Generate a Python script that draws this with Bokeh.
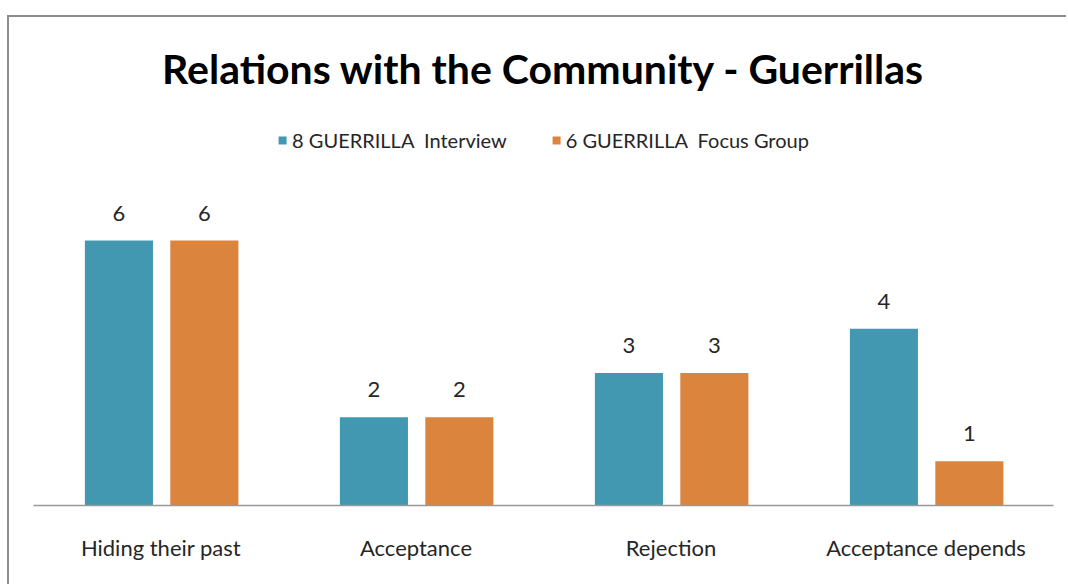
from bokeh.plotting import figure
from bokeh.models import FactorRange, Range1d, ColumnDataSource, Legend, LegendItem
from bokeh.transform import dodge
from bokeh.core.properties import value
from bokeh.embed import file_html
from bokeh.resources import INLINE

categories = ["Hiding their past", "Acceptance", "Rejection", "Acceptance depends"]
interview = [6, 2, 3, 4]
focus_group = [6, 2, 3, 1]
series_names = ["8 GUERRILLA  Interview", "6 GUERRILLA  Focus Group"]
colors = ["#4298B1", "#DB843D"]

src = ColumnDataSource(dict(
    cat=categories,
    a=interview,
    b=focus_group,
    a_txt=[str(v) for v in interview],
    b_txt=[str(v) for v in focus_group],
))

p = figure(width=1059, height=569, x_range=FactorRange(*categories), y_range=Range1d(0, 9.17),
           output_backend="svg", toolbar_location=None,
           min_border_left=24, min_border_right=15, min_border_bottom=81, min_border_top=83)
p.styles = {"margin-left": "7px", "margin-top": "15px",
            "border-left": "2px solid #8C8C8C", "border-top": "2px solid #8C8C8C"}

p.title.text = "Relations with the Community - Guerrillas"
p.title.align = "center"
p.title.text_font = "Lato"
p.title.text_font_style = "bold"
p.title.text_font_size = "41px"
p.title.text_color = "#000000"
p.title.standoff = 15

ra = p.vbar(x=dodge("cat", -0.165, range=p.x_range), top="a", width=0.267, source=src,
            fill_color=colors[0], line_color=None)
rb = p.vbar(x=dodge("cat", 0.17, range=p.x_range), top="b", width=0.267, source=src,
            fill_color=colors[1], line_color=None)

for off, col in ((-0.165, "a"), (0.17, "b")):
    p.text(x=dodge("cat", off, range=p.x_range), y=col, text=col + "_txt", source=src,
           text_align="center", text_baseline="bottom", y_offset=-20,
           text_font=value("Lato"), text_font_size="22px", text_color="#262626")

legend = Legend(items=[LegendItem(label=series_names[0], renderers=[ra]),
                       LegendItem(label=series_names[1], renderers=[rb])],
                location="top_center", orientation="horizontal")
legend.glyph_width = 10
legend.glyph_height = 10
legend.label_standoff = 5
legend.spacing = 44
legend.margin = 28
legend.padding = 10
legend.label_text_font = "Lato"
legend.label_text_font_size = "20px"
legend.label_text_color = "#262626"
legend.background_fill_alpha = 0
legend.border_line_color = None
p.add_layout(legend)

p.xgrid.visible = False
p.ygrid.visible = False
p.yaxis.visible = False
p.outline_line_color = None
p.xaxis.axis_line_color = "#999999"
p.xaxis.axis_line_width = 1.5
p.xaxis.major_tick_line_color = None
p.xaxis.minor_tick_line_color = None
p.xaxis.major_tick_out = 0
p.xaxis.major_label_standoff = 28
p.xaxis.major_label_text_font = "Lato"
p.xaxis.major_label_text_font_size = "22px"
p.xaxis.major_label_text_color = "#262626"

open("out.html", "w").write(file_html(p, INLINE))
